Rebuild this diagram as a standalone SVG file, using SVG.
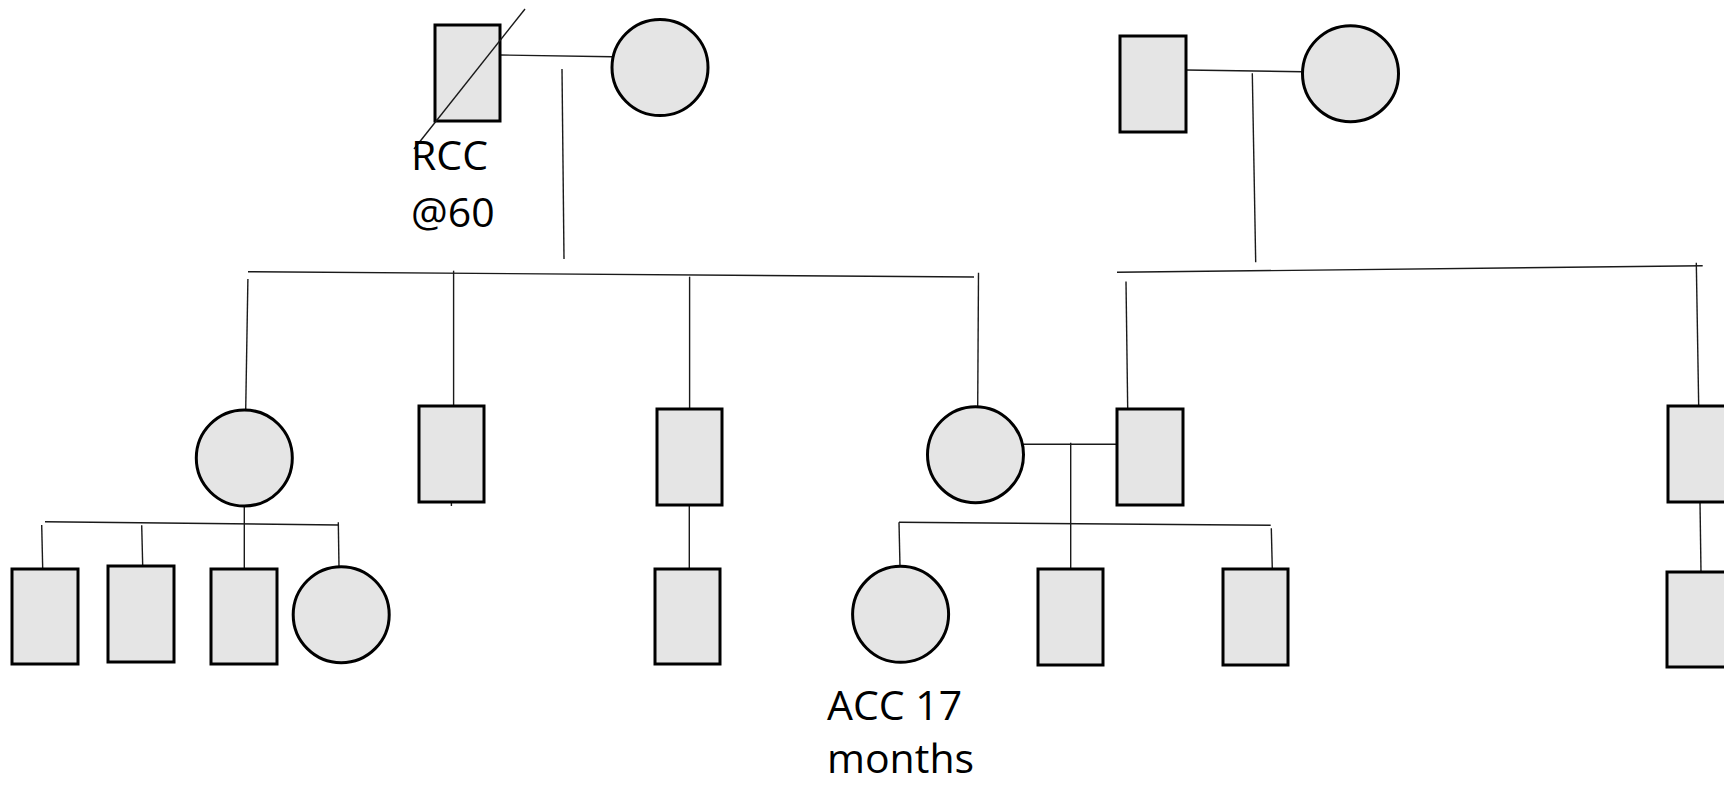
<svg xmlns="http://www.w3.org/2000/svg" width="1724" height="785" viewBox="0 0 1724 785">
  <style>
    .male { fill: #e5e5e5; stroke: #000; stroke-width: 3; }
    .female { fill: #e5e5e5; stroke: #000; stroke-width: 3; }
    .link { stroke: #1a1a1a; stroke-width: 1.4; fill: none; }
    .note { font-family: "Open Sans", "Liberation Sans", sans-serif; font-size: 41px; fill: #000; }
  </style>
  <rect width="1724" height="785" fill="#fff"/>

  <!-- connectors: marriages, descent lines, sibships -->
  <g id="connectors" class="link">
    <!-- left grandparents -->
    <line x1="500" y1="55" x2="612" y2="56.7"/>
    <line x1="562" y1="69" x2="564" y2="259"/>
    <line x1="248" y1="271.7" x2="974" y2="277"/>
    <line x1="247.9" y1="279" x2="245.7" y2="410"/>
    <line x1="453.6" y1="270.7" x2="453.6" y2="406"/>
    <line x1="451.4" y1="502" x2="451.4" y2="506"/>
    <line x1="689.6" y1="276.7" x2="689.6" y2="409"/>
    <line x1="978.5" y1="272.7" x2="977.7" y2="407"/>
    <!-- right grandparents -->
    <line x1="1186" y1="70" x2="1302.7" y2="71.7"/>
    <line x1="1252.3" y1="73.3" x2="1255.7" y2="262.3"/>
    <line x1="1117" y1="272.3" x2="1702.7" y2="265.7"/>
    <line x1="1126" y1="281.5" x2="1127.7" y2="409"/>
    <line x1="1696.3" y1="262.7" x2="1698.7" y2="406"/>
    <!-- first daughter's children -->
    <line x1="45" y1="521.7" x2="338.3" y2="525"/>
    <line x1="41.7" y1="525" x2="42.7" y2="569"/>
    <line x1="141.7" y1="525.3" x2="142.7" y2="566"/>
    <line x1="244.3" y1="506" x2="244.3" y2="569"/>
    <line x1="338.3" y1="522.3" x2="339" y2="567"/>
    <!-- third son's child -->
    <line x1="689.3" y1="505" x2="689.3" y2="569"/>
    <!-- fourth child's marriage and children -->
    <line x1="1023" y1="444.3" x2="1117" y2="444.3"/>
    <line x1="1070.7" y1="442.7" x2="1070.7" y2="569"/>
    <line x1="899" y1="522.3" x2="1270.7" y2="525.3"/>
    <line x1="899" y1="522.3" x2="900" y2="567"/>
    <line x1="1271.3" y1="528.3" x2="1272.3" y2="569"/>
    <!-- far right son and child -->
    <line x1="1700" y1="502" x2="1701" y2="572"/>
  </g>

  <!-- generation I -->
  <g id="grandfather-left">
    <rect class="male" x="435" y="25" width="65" height="96"/>
    <line class="link" x1="525" y1="9" x2="414" y2="149"/>
    <text class="note" x="411" y="170">RCC</text>
    <text class="note" x="411" y="227">@60</text>
  </g>
  <g id="grandmother-left">
    <circle class="female" cx="660" cy="67.5" r="48"/>
  </g>
  <g id="grandfather-right">
    <rect class="male" x="1120" y="36" width="66" height="96"/>
  </g>
  <g id="grandmother-right">
    <circle class="female" cx="1350.5" cy="73.7" r="48"/>
  </g>

  <!-- generation II -->
  <g id="daughter-1">
    <circle class="female" cx="244.3" cy="458" r="48"/>
  </g>
  <g id="son-2">
    <rect class="male" x="419" y="406" width="65" height="96"/>
  </g>
  <g id="son-3">
    <rect class="male" x="657" y="409" width="65" height="96"/>
  </g>
  <g id="daughter-4">
    <circle class="female" cx="975.5" cy="454.7" r="48"/>
  </g>
  <g id="spouse-4">
    <rect class="male" x="1117" y="409" width="66" height="96"/>
  </g>
  <g id="son-right">
    <rect class="male" x="1668" y="406" width="66" height="96"/>
  </g>

  <!-- generation III -->
  <g id="grandchild-1a">
    <rect class="male" x="12" y="569" width="66" height="95"/>
  </g>
  <g id="grandchild-1b">
    <rect class="male" x="108" y="566" width="66" height="96"/>
  </g>
  <g id="grandchild-1c">
    <rect class="male" x="211" y="569" width="66" height="95"/>
  </g>
  <g id="grandchild-1d">
    <circle class="female" cx="341.2" cy="614.7" r="48"/>
  </g>
  <g id="grandchild-3a">
    <rect class="male" x="655" y="569" width="65" height="95"/>
  </g>
  <g id="proband">
    <circle class="female" cx="900.6" cy="614.3" r="48"/>
    <text class="note" x="827" y="720">ACC 17</text>
    <text class="note" x="827" y="773">months</text>
  </g>
  <g id="grandchild-4b">
    <rect class="male" x="1038" y="569" width="65" height="96"/>
  </g>
  <g id="grandchild-4c">
    <rect class="male" x="1223" y="569" width="65" height="96"/>
  </g>
  <g id="grandchild-right">
    <rect class="male" x="1667" y="572" width="66" height="95"/>
  </g>
</svg>
